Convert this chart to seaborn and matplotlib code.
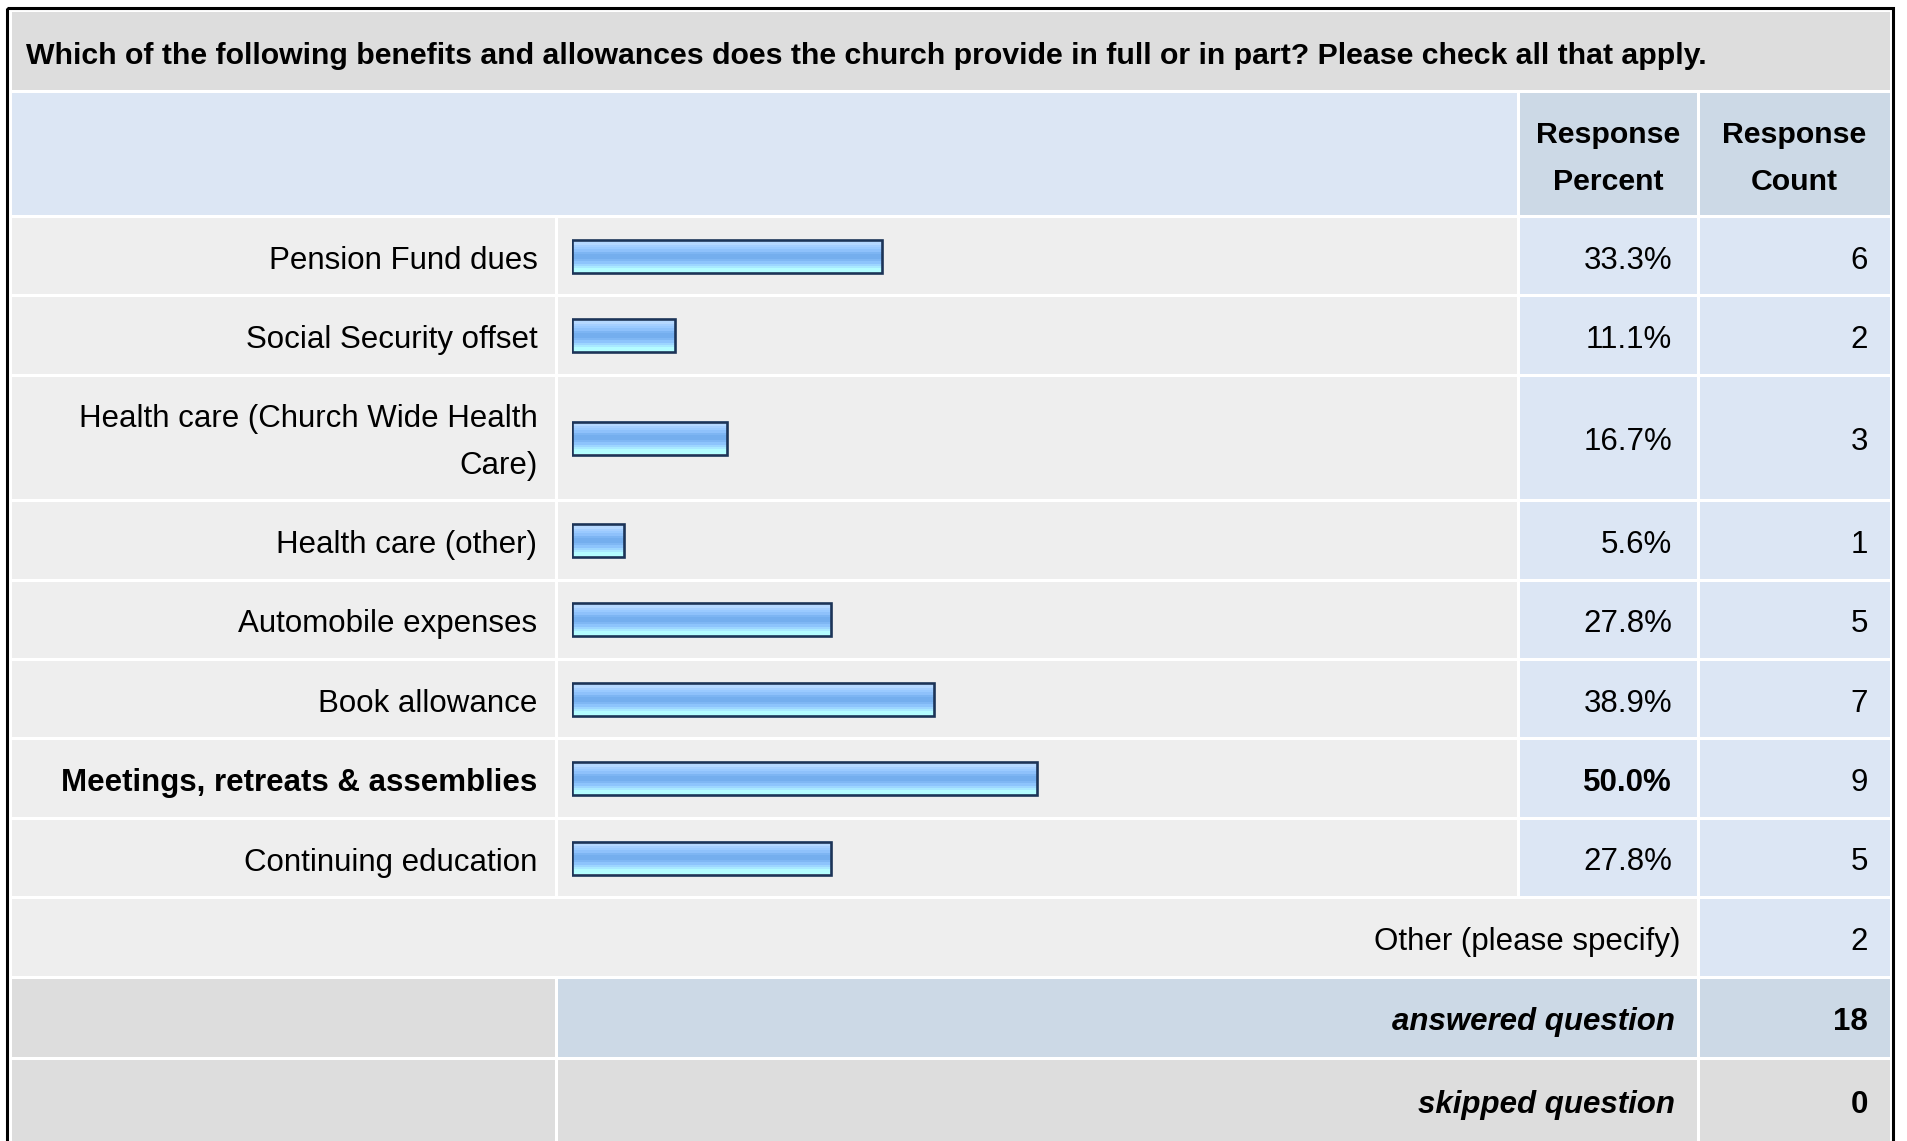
import numpy as np
import matplotlib
matplotlib.use("Agg")
import matplotlib.pyplot as plt
from matplotlib.patches import Rectangle
import seaborn as sns

# Tema
sns.set_theme(style="white")
plt.rcParams['font.family'] = ['Liberation Sans', 'DejaVu Sans']
plt.rcParams['text.color'] = 'black'

# Dados da pesquisa
question = ("Which of the following benefits and allowances does the church provide "
            "in full or in part? Please check all that apply.")
options = ["Pension Fund dues", "Social Security offset",
           "Health care (Church Wide Health\nCare)", "Health care (other)",
           "Automobile expenses", "Book allowance",
           "Meetings, retreats & assemblies", "Continuing education"]
percent = [33.3, 11.1, 16.7, 5.6, 27.8, 38.9, 50.0, 27.8]
count = [6, 2, 3, 1, 5, 7, 9, 5]
other_label = "Other (please specify)"
other_count = 2
answered = 18
skipped = 0

# Cores
GRAY = '#DDDDDD'
LIGHT = '#EEEEEE'
BLUE = '#DCE6F4'
BLUE2 = '#CCD9E6'
EDGE = '#1C3458'
stripes = ['#CDE6FF', '#B5D8FF', '#A5CFFF', '#9ACAFF', '#8EC1FB', '#7DB5F3',
           '#74AEEE', '#74AEEE', '#7FB7F4', '#8DC4FC', '#9DD6FF', '#A9E9FF',
           '#B4FCFF', '#B4FFFF']

# Layout (pixels)
W, H = 1907, 1141
cx = [10, 556, 1518, 1698, 1891]
row_h, line_h = 79.4, 46
y_title, y_head, y_rows = 10, 91, 216.5
heights = np.array([row_h + line_h * o.count("\n") for o in options])
row_top = y_rows + np.concatenate([[0], np.cumsum(heights)[:-1]])
row_mid = row_top + heights / 2
y_other = y_rows + heights.sum()
y_ans = y_other + row_h
y_skip = y_ans + 81
FS = 22.5
DY = 4.5

fig = plt.figure(figsize=(W / 100, H / 100), dpi=100)
tab = fig.add_axes([0, 0, 1, 1])
tab.set_xlim(0, W)
tab.set_ylim(H, 0)
tab.set_axis_off()


def cell(x0, x1, y0, y1, color, gap=1.5):
    tab.add_patch(Rectangle((x0 + gap, y0 + gap), x1 - x0 - 2 * gap, y1 - y0 - 2 * gap,
                            facecolor=color, edgecolor='none'))


# fundo da tabela
cell(cx[0], cx[4], y_title, y_head, GRAY)
cell(cx[0], cx[2], y_head, y_rows, BLUE)
cell(cx[2], cx[3], y_head, y_rows, BLUE2)
cell(cx[3], cx[4], y_head, y_rows, BLUE2)
for t, h in zip(row_top, heights):
    cell(cx[0], cx[1], t, t + h, LIGHT)
    cell(cx[1], cx[2], t, t + h, LIGHT)
    cell(cx[2], cx[3], t, t + h, BLUE)
    cell(cx[3], cx[4], t, t + h, BLUE)
cell(cx[0], cx[3], y_other, y_ans, LIGHT)
cell(cx[3], cx[4], y_other, y_ans, BLUE)
cell(cx[0], cx[1], y_ans, y_skip, GRAY)
cell(cx[1], cx[3], y_ans, y_skip, BLUE2)
cell(cx[3], cx[4], y_ans, y_skip, BLUE2)
cell(cx[0], cx[1], y_skip, H + 30, GRAY)
cell(cx[1], cx[3], y_skip, H + 30, GRAY)
cell(cx[3], cx[4], y_skip, H + 30, GRAY)
tab.add_patch(Rectangle((6.5, 8), 1886.5, 1200, fill=False, edgecolor='black', lw=2.2))

# textos
tab.text(26, y_title + 46, question, fontsize=21.8, fontweight='bold', ha='left', va='center')
for x, txt in [((cx[2] + cx[3]) / 2, "Response\nPercent"), ((cx[3] + cx[4]) / 2, "Response\nCount")]:
    tab.text(x, (y_head + y_rows) / 2 + 5, txt, fontsize=21.8, fontweight='bold',
             ha='center', va='center', linespacing=1.85)

best = int(np.argmax(percent))
for i, (lab, p, c, m) in enumerate(zip(options, percent, count, row_mid)):
    fw = 'bold' if i == best else 'normal'
    tab.text(537.5, m + DY, lab, fontsize=FS, fontweight=fw, ha='right', va='center', linespacing=1.77)
    tab.text(1672, m + DY, f"{p:.1f}%", fontsize=FS, fontweight=fw, ha='right', va='center')
    tab.text(1868, m + DY, str(c), fontsize=FS, ha='right', va='center')

tab.text(1680, (y_other + y_ans) / 2 + DY, other_label, fontsize=FS, ha='right', va='center')
tab.text(1868, (y_other + y_ans) / 2 + DY, str(other_count), fontsize=FS, ha='right', va='center')
tab.text(1675, (y_ans + y_skip) / 2 + DY, "answered question", fontsize=FS, fontweight='bold',
         style='italic', ha='right', va='center')
tab.text(1868, (y_ans + y_skip) / 2 + DY, str(answered), fontsize=FS, fontweight='bold', ha='right', va='center')
tab.text(1675, y_skip + 47, "skipped question", fontsize=FS, fontweight='bold',
         style='italic', ha='right', va='center')
tab.text(1868, y_skip + 47, str(skipped), fontsize=FS, fontweight='bold', ha='right', va='center')

# barras (eixo proprio em %)
bax = fig.add_axes([572 / W, 0, 930 / W, 1])
bax.patch.set_alpha(0)
bar_h = 33
sns.barplot(x=percent, y=row_mid, orient='h', native_scale=True,
            width=bar_h / np.min(np.diff(row_mid)), color=stripes[4],
            edgecolor=EDGE, linewidth=1.9, errorbar=None, ax=bax)
grad = np.array([matplotlib.colors.to_rgb(s) for s in stripes])[:, None, :]
for bar in bax.patches:
    mid = bar.get_y() + bar.get_height() / 2
    bar.set_y(mid - bar_h / 2)
    bar.set_height(bar_h)
    bar.set_facecolor('none')
    bar.set_zorder(3)
    bax.imshow(grad, extent=(bar.get_x(), bar.get_x() + bar.get_width(), mid + bar_h / 2, mid - bar_h / 2),
               aspect='auto', interpolation='nearest', origin='upper', zorder=2)
bax.set_xlim(0, 100)
bax.set_ylim(H, 0)
bax.set_axis_off()

fig.savefig("out.png", dpi=100)
